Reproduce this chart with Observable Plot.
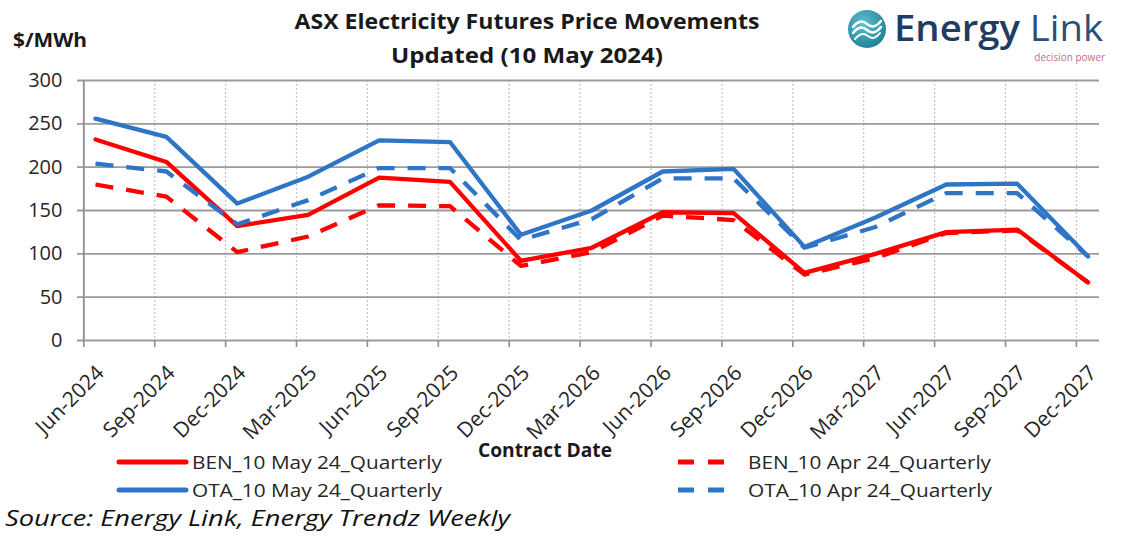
<!DOCTYPE html>
<html>
<head>
<meta charset="utf-8">
<script src="https://cdn.jsdelivr.net/npm/d3@7"></script>
<script src="https://cdn.jsdelivr.net/npm/@observablehq/plot@0.6"></script>
<style>
  html, body { margin: 0; padding: 0; background: #fff; }
  #wrap { position: relative; width: 1122px; height: 537px; overflow: hidden; font-family: "Open Sans", sans-serif; }
  #overlay { position: absolute; left: 0; top: 0; pointer-events: none; }
</style>
</head>
<body>
<div id="wrap">
  <div id="chart"></div>
  <svg id="overlay" width="1122" height="537" xmlns="http://www.w3.org/2000/svg" font-family="Open Sans, sans-serif">
    <defs>
      <radialGradient id="lg" cx="40%" cy="35%" r="70%">
        <stop offset="0%" stop-color="#5fc0cf"/>
        <stop offset="100%" stop-color="#1d7f95"/>
      </radialGradient>
    </defs>
    <!-- title -->
    <text x="527" y="29" text-anchor="middle" font-weight="bold" font-size="22" fill="#1a1a1a" textLength="465" lengthAdjust="spacingAndGlyphs">ASX Electricity Futures Price Movements</text>
    <text x="527" y="63" text-anchor="middle" font-weight="bold" font-size="22" fill="#1a1a1a" textLength="272" lengthAdjust="spacingAndGlyphs">Updated (10 May 2024)</text>
    <text x="13" y="47" font-weight="bold" font-size="20" fill="#1a1a1a" textLength="74" lengthAdjust="spacingAndGlyphs">$/MWh</text>
    <!-- logo -->
    <circle cx="867" cy="29" r="19" fill="url(#lg)"/>
    <path d="M853 27 q7 -9 14 -3 t14 -3" stroke="#fff" stroke-width="2.5" fill="none" stroke-linecap="round"/>
    <path d="M853 33 q7 -9 14 -3 t14 -3" stroke="#fff" stroke-width="2.5" fill="none" stroke-linecap="round"/>
    <path d="M855 39 q7 -8 13 -3 t12 -3" stroke="#fff" stroke-width="2" fill="none" stroke-linecap="round"/>
    <text x="894" y="41" font-size="36" fill="#1f3d63" textLength="209" lengthAdjust="spacingAndGlyphs"><tspan font-weight="600">Energy</tspan> <tspan fill="#2a4f78">Link</tspan></text>
    <text x="1105" y="61" text-anchor="end" font-size="10" fill="#c46a83">decision power</text>
    <!-- axis title -->
    <text x="545" y="457" text-anchor="middle" font-weight="bold" font-size="19" fill="#1a1a1a" textLength="134" lengthAdjust="spacingAndGlyphs">Contract Date</text>
    <!-- legend -->
    <g id="legend" font-size="19" fill="#262626"></g>
    <!-- source -->
    <text x="5" y="526" font-style="italic" font-size="22" fill="#111" textLength="505" lengthAdjust="spacingAndGlyphs">Source: Energy Link, Energy Trendz Weekly</text>
  </svg>
</div>
<script>
const categories = ["Jun-2024","Sep-2024","Dec-2024","Mar-2025","Jun-2025","Sep-2025","Dec-2025","Mar-2026","Jun-2026","Sep-2026","Dec-2026","Mar-2027","Jun-2027","Sep-2027","Dec-2027"];
const benMay = [232, 206, 132, 145, 188, 183, 92, 107, 148, 147, 78, 100, 125, 128, 67];
const benApr = [180, 166, 102, 120, 156, 155, 86, 102, 144, 139, 76, 95, 124, 127, 67];
const otaMay = [256, 235, 158, 189, 231, 229, 122, 150, 195, 198, 108, 142, 180, 181, 97];
const otaApr = [204, 195, 134, 162, 199, 199, 116, 140, 187, 187, 107, 131, 170, 170, 97];
const yTicks = [0, 50, 100, 150, 200, 250, 300];

const seriesNames = ["BEN_10 May 24_Quarterly", "BEN_10 Apr 24_Quarterly", "OTA_10 May 24_Quarterly", "OTA_10 Apr 24_Quarterly"];
const seriesValues = [benMay, benApr, otaMay, otaApr];
const seriesColors = ["#ff0000", "#ff0000", "#2e75c6", "#2e75c6"];
const seriesDash = [null, "18,13", null, "18,13"];

const idx = categories.map((c, i) => i);
const gridShift = -11.7;

const lineMarks = seriesValues.map((vals, s) =>
  Plot.line(vals.map((v, i) => ({i, v})), {
    x: "i", y: "v",
    stroke: seriesColors[s], strokeWidth: 4.3,
    strokeDasharray: seriesDash[s] || undefined,
    strokeLinejoin: "round", strokeLinecap: seriesDash[s] ? "butt" : "round"
  })
);

const chart = Plot.plot({
  width: 1122, height: 537,
  marginTop: 80, marginBottom: 197, marginLeft: 77, marginRight: 23,
  style: {fontFamily: "Open Sans, sans-serif", color: "#262626", background: "transparent"},
  x: {domain: [-0.254, 14.161], axis: null},
  y: {domain: [0, 300], axis: null},
  marks: [
    Plot.ruleX(idx, {x: d => d, dx: gridShift, stroke: "#c4c4c4", strokeWidth: 1.2, strokeDasharray: "2,2"}),
    Plot.ruleY(yTicks, {y: d => d, stroke: "#9b9b9b", strokeWidth: 1.8}),
    Plot.ruleX([0], {x: d => d, dx: gridShift, stroke: "#8f8f8f", strokeWidth: 1.8}),
    Plot.ruleX(idx, {x: d => d, dx: gridShift, insetTop: 260, insetBottom: -7, stroke: "#8f8f8f", strokeWidth: 1.6}),
    Plot.text(yTicks, {y: d => d, text: d => String(d), frameAnchor: "left", textAnchor: "end", dx: -15, fontSize: 20, fill: "#262626"}),
    Plot.text(idx, {x: d => d, text: d => categories[d], frameAnchor: "bottom", rotate: -45, textAnchor: "end", lineAnchor: "middle", dx: 5, dy: 29, fontSize: 21, fill: "#262626"}),
    ...lineMarks
  ]
});
document.getElementById("chart").appendChild(chart);

// legend
const legend = document.getElementById("legend");
const NS = "http://www.w3.org/2000/svg";
const legendPos = [
  {x1: 119, x2: 186, tx: 192, y: 462, w: 250},
  {x1: 678, x2: 734, tx: 748, y: 462, w: 243},
  {x1: 119, x2: 186, tx: 192, y: 490, w: 250},
  {x1: 678, x2: 734, tx: 748, y: 490, w: 244}
];
seriesNames.forEach((name, s) => {
  const p = legendPos[s];
  const ln = document.createElementNS(NS, "line");
  ln.setAttribute("x1", p.x1); ln.setAttribute("x2", p.x2);
  ln.setAttribute("y1", p.y); ln.setAttribute("y2", p.y);
  ln.setAttribute("stroke", seriesColors[s]);
  ln.setAttribute("stroke-width", 5);
  if (seriesDash[s]) ln.setAttribute("stroke-dasharray", "16,14");
  else ln.setAttribute("stroke-linecap", "round");
  legend.appendChild(ln);
  const t = document.createElementNS(NS, "text");
  t.setAttribute("x", p.tx); t.setAttribute("y", p.y + 7);
  t.setAttribute("textLength", p.w);
  t.setAttribute("lengthAdjust", "spacingAndGlyphs");
  t.textContent = name;
  legend.appendChild(t);
});
</script>
</body>
</html>
